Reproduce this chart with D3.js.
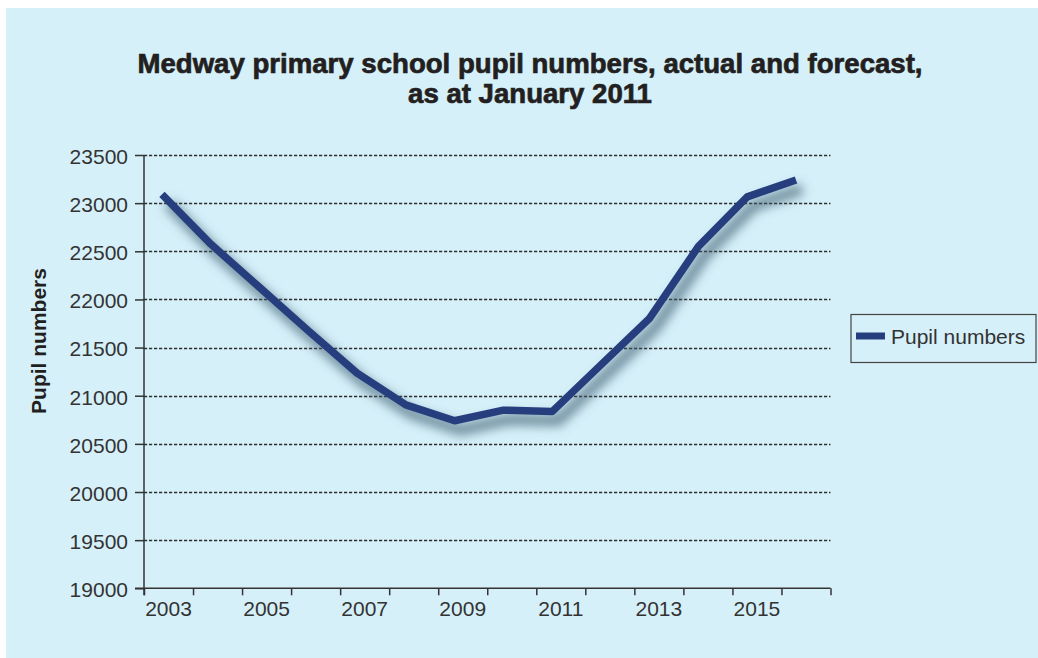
<!DOCTYPE html>
<html>
<head>
<meta charset="utf-8">
<script src="https://cdn.jsdelivr.net/npm/d3@7"></script>
<style>
  html, body { margin: 0; padding: 0; background: #ffffff; }
  svg { display: block; }
  text { font-family: "Liberation Sans", Arial, sans-serif; }
</style>
</head>
<body>
<svg id="chart" width="1038" height="658"></svg>
<script>
// ---- data ----
const years = [2003, 2004, 2005, 2006, 2007, 2008, 2009, 2010, 2011, 2012, 2013, 2014, 2015, 2016];
const labelYears = [2003, 2005, 2007, 2009, 2011, 2013, 2015];
const pupilNumbers = [23090, 22575, 22125, 21675, 21235, 20905, 20740, 20850, 20835, 21320, 21805, 22550, 23065, 23240];
const yTickValues = [19000, 19500, 20000, 20500, 21000, 21500, 22000, 22500, 23000, 23500];
const seriesName = "Pupil numbers";
const titleLines = ["Medway primary school pupil numbers, actual and forecast,", "as at January 2011"];
const yAxisTitle = "Pupil numbers";

// ---- layout ----
const W = 1038, H = 658;
const plot = { left: 144, right: 830.5, top: 155, bottom: 588.3 };
const lineColor = "#263e7e";
const textColor = "#333333";

const svg = d3.select("#chart");

// background panel
svg.append("rect").attr("x", 6).attr("y", 8).attr("width", W - 6).attr("height", H - 8).attr("fill", "#d6f0fa");

// shadow filter
const defs = svg.append("defs");
const f = defs.append("filter").attr("id", "shadow").attr("x", "-20%").attr("y", "-20%").attr("width", "140%").attr("height", "140%");
f.append("feGaussianBlur").attr("stdDeviation", 5.5);

// scales
const xBand = d3.scaleBand().domain(years).range([plot.left, plot.right]);
const xTickScale = d3.scaleLinear().domain([0, years.length]).range([plot.left, plot.right]);
const xLine = d3.scalePoint().domain(years).range([162, 796]);
const y = d3.scaleLinear().domain([19000, 23500]).range([plot.bottom, plot.top]);

// gridlines
svg.append("g").selectAll("line")
  .data(yTickValues.filter(v => v > 19000))
  .join("line")
  .attr("x1", plot.left).attr("x2", plot.right)
  .attr("y1", d => Math.round(y(d)) + 0.5).attr("y2", d => Math.round(y(d)) + 0.5)
  .attr("stroke", "#2e2e2e").attr("stroke-width", 1.3)
  .attr("stroke-dasharray", "3.2,1.8");

// y axis
const yAxis = svg.append("g").attr("transform", `translate(${plot.left},0)`)
  .call(d3.axisLeft(y).tickValues(yTickValues).tickSize(9).tickPadding(7).tickFormat(d3.format("d")));
yAxis.select(".domain").attr("stroke", "#333").attr("stroke-width", 1.5).attr("d", `M0,${plot.top}V${plot.bottom + 7}`);
yAxis.selectAll(".tick line").attr("stroke", "#333").attr("stroke-width", 1.5);
yAxis.selectAll(".tick text").attr("fill", textColor).attr("font-size", 21).attr("dy", "0.4em")
  .style("font-family", "'Liberation Sans', Arial, sans-serif");

// x axis ticks (category boundaries)
const xTicksG = svg.append("g").attr("transform", `translate(0,${plot.bottom})`)
  .call(d3.axisBottom(xTickScale).tickValues(d3.range(0, years.length + 1)).tickSize(7).tickFormat(""));
xTicksG.select(".domain").attr("stroke", "#333").attr("stroke-width", 1.5).attr("d", `M${plot.left - 9},0H${plot.right}`);
xTicksG.selectAll(".tick line").attr("stroke", "#333").attr("stroke-width", 1.5);

// x axis labels
const xLab = svg.append("g").attr("transform", `translate(0,${plot.bottom})`)
  .call(d3.axisBottom(xBand).tickValues(labelYears).tickSize(0).tickPadding(13));
xLab.select(".domain").remove();
xLab.selectAll(".tick text").attr("fill", textColor).attr("font-size", 21)
  .style("font-family", "'Liberation Sans', Arial, sans-serif");

// line
const data = years.map((yr, i) => ({ year: yr, value: pupilNumbers[i] }));
const lineGen = d3.line().x(d => xLine(d.year)).y(d => y(d.value));

svg.append("path").datum(data)
  .attr("d", lineGen)
  .attr("fill", "none").attr("stroke", "#3c5d6e").attr("stroke-opacity", 0.7)
  .attr("stroke-width", 11).attr("stroke-linejoin", "round")
  .attr("transform", "translate(6,9)")
  .attr("filter", "url(#shadow)");

svg.append("path").datum(data)
  .attr("d", lineGen)
  .attr("fill", "none").attr("stroke", lineColor)
  .attr("stroke-width", 7.5).attr("stroke-linejoin", "round").attr("stroke-linecap", "butt");

// title
svg.append("g").selectAll("text")
  .data(titleLines)
  .join("text")
  .attr("x", 530).attr("y", (d, i) => 73 + i * 30)
  .attr("text-anchor", "middle")
  .attr("font-size", 27.6).attr("font-weight", "bold")
  .attr("fill", "#231f20").attr("stroke", "#231f20").attr("stroke-width", 0.7)
  .text(d => d);

// y axis title
svg.append("text")
  .attr("transform", `translate(46,341) rotate(-90)`)
  .attr("text-anchor", "middle")
  .attr("font-size", 21).attr("font-weight", "bold")
  .attr("fill", "#231f20")
  .text(yAxisTitle);

// legend
const lg = svg.append("g");
lg.append("rect").attr("x", 851).attr("y", 314.5).attr("width", 185).attr("height", 48)
  .attr("fill", "none").attr("stroke", "#444").attr("stroke-width", 1.2);
lg.append("line").attr("x1", 856).attr("x2", 885).attr("y1", 336).attr("y2", 336)
  .attr("stroke", lineColor).attr("stroke-width", 7);
lg.append("text").attr("x", 891).attr("y", 344).attr("font-size", 21).attr("fill", textColor).text(seriesName);
</script>
</body>
</html>
